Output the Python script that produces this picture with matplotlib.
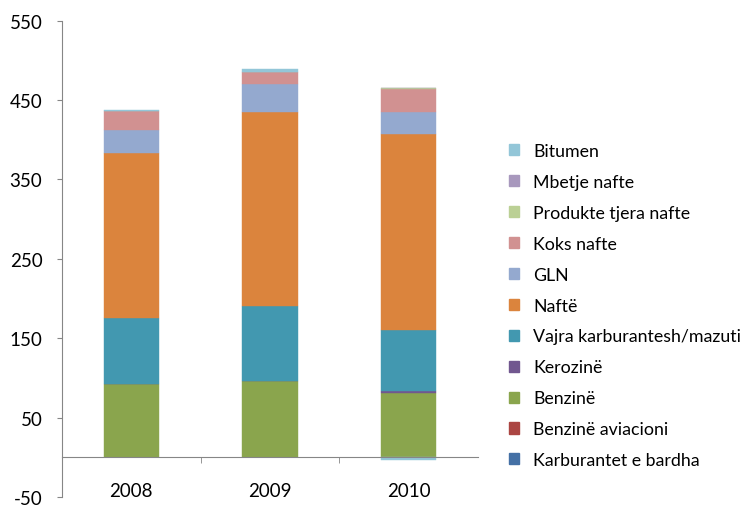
import numpy as np
from matplotlib import pyplot as plt
from matplotlib.patches import Patch

years = ["2008", "2009", "2010"]

# bottom to top stacking order
series_names = [
    "Karburantet e bardha",
    "Benzinë aviacioni",
    "Benzinë",
    "Kerozinë",
    "Vajra karburantesh/mazuti",
    "Naftë",
    "GLN",
    "Koks nafte",
    "Produkte tjera nafte",
    "Mbetje nafte",
    "Bitumen",
]

karburantet = [0, 0, 0]
benzine_aviacioni = [0, 0, 0]
benzine = [92, 96, 81]
kerozine = [0, 0, 2]
vajra = [83, 94, 78]
nafte = [208, 245, 246]
gln = [29, 35, 28]
koks = [24, 15, 29]
produkte = [0, 0, 1.5]
mbetje = [0, 0, 0]
bitumen = [2, 4, -3]

series_values = [
    karburantet, benzine_aviacioni, benzine, kerozine, vajra,
    nafte, gln, koks, produkte, mbetje, bitumen,
]

colors = [
    "#4470A5", "#AB4542", "#8AA54D", "#71578F", "#4298B0",
    "#DB843D", "#94A9CF", "#D19191", "#BBD095", "#A898BD", "#93C6D8",
]

plt.rcParams["font.family"] = ["Lato", "DejaVu Sans"]
plt.rcParams["axes.unicode_minus"] = False
fs = 13.5

fig = plt.figure(figsize=(7.52, 5.06), dpi=100)
ax = fig.add_axes([62 / 752, 1 - 498 / 506, 416 / 752, (498 - 21.7) / 506])

x = np.arange(len(years))
pos_bottom = np.zeros(len(years))
neg_bottom = np.zeros(len(years))
for name, values, color in zip(series_names, series_values, colors):
    values = np.array(values, dtype=float)
    bottom = np.where(values >= 0, pos_bottom, neg_bottom)
    ax.bar(x, values, 0.4, bottom=bottom, color=color, label=name,
           edgecolor=color, linewidth=0.3)
    pos_bottom += np.where(values >= 0, values, 0)
    neg_bottom += np.where(values < 0, values, 0)

ax.set_xlim(-0.5, 2.5)
ax.set_ylim(-50, 550)
ax.set_yticks(np.arange(-50, 551, 100))

for side in ["top", "right"]:
    ax.spines[side].set_visible(False)
ax.spines["left"].set_color("#868686")
ax.spines["bottom"].set_color("#868686")
ax.spines["bottom"].set_position(("data", 0))

ax.set_xticks(x)
ax.set_xticklabels(years)
ax.set_xticks([0.5, 1.5], minor=True)
ax.tick_params(axis="x", which="major", length=0, pad=18, labelsize=fs)
ax.tick_params(axis="x", which="minor", length=4, color="#868686", direction="out")
ax.tick_params(axis="y", length=3.6, color="#868686", labelsize=fs, pad=10.5)

handles = [Patch(color=c) for c in colors][::-1]
fig.legend(
    handles, series_names[::-1],
    loc="upper left", bbox_to_anchor=(500 / 752, 1 - 135 / 506),
    frameon=False, fontsize=12.8,
    handlelength=0.58, handleheight=0.58, handletextpad=0.8,
    labelspacing=0.84, borderpad=0,
)

fig.savefig("out.png", dpi=100)
